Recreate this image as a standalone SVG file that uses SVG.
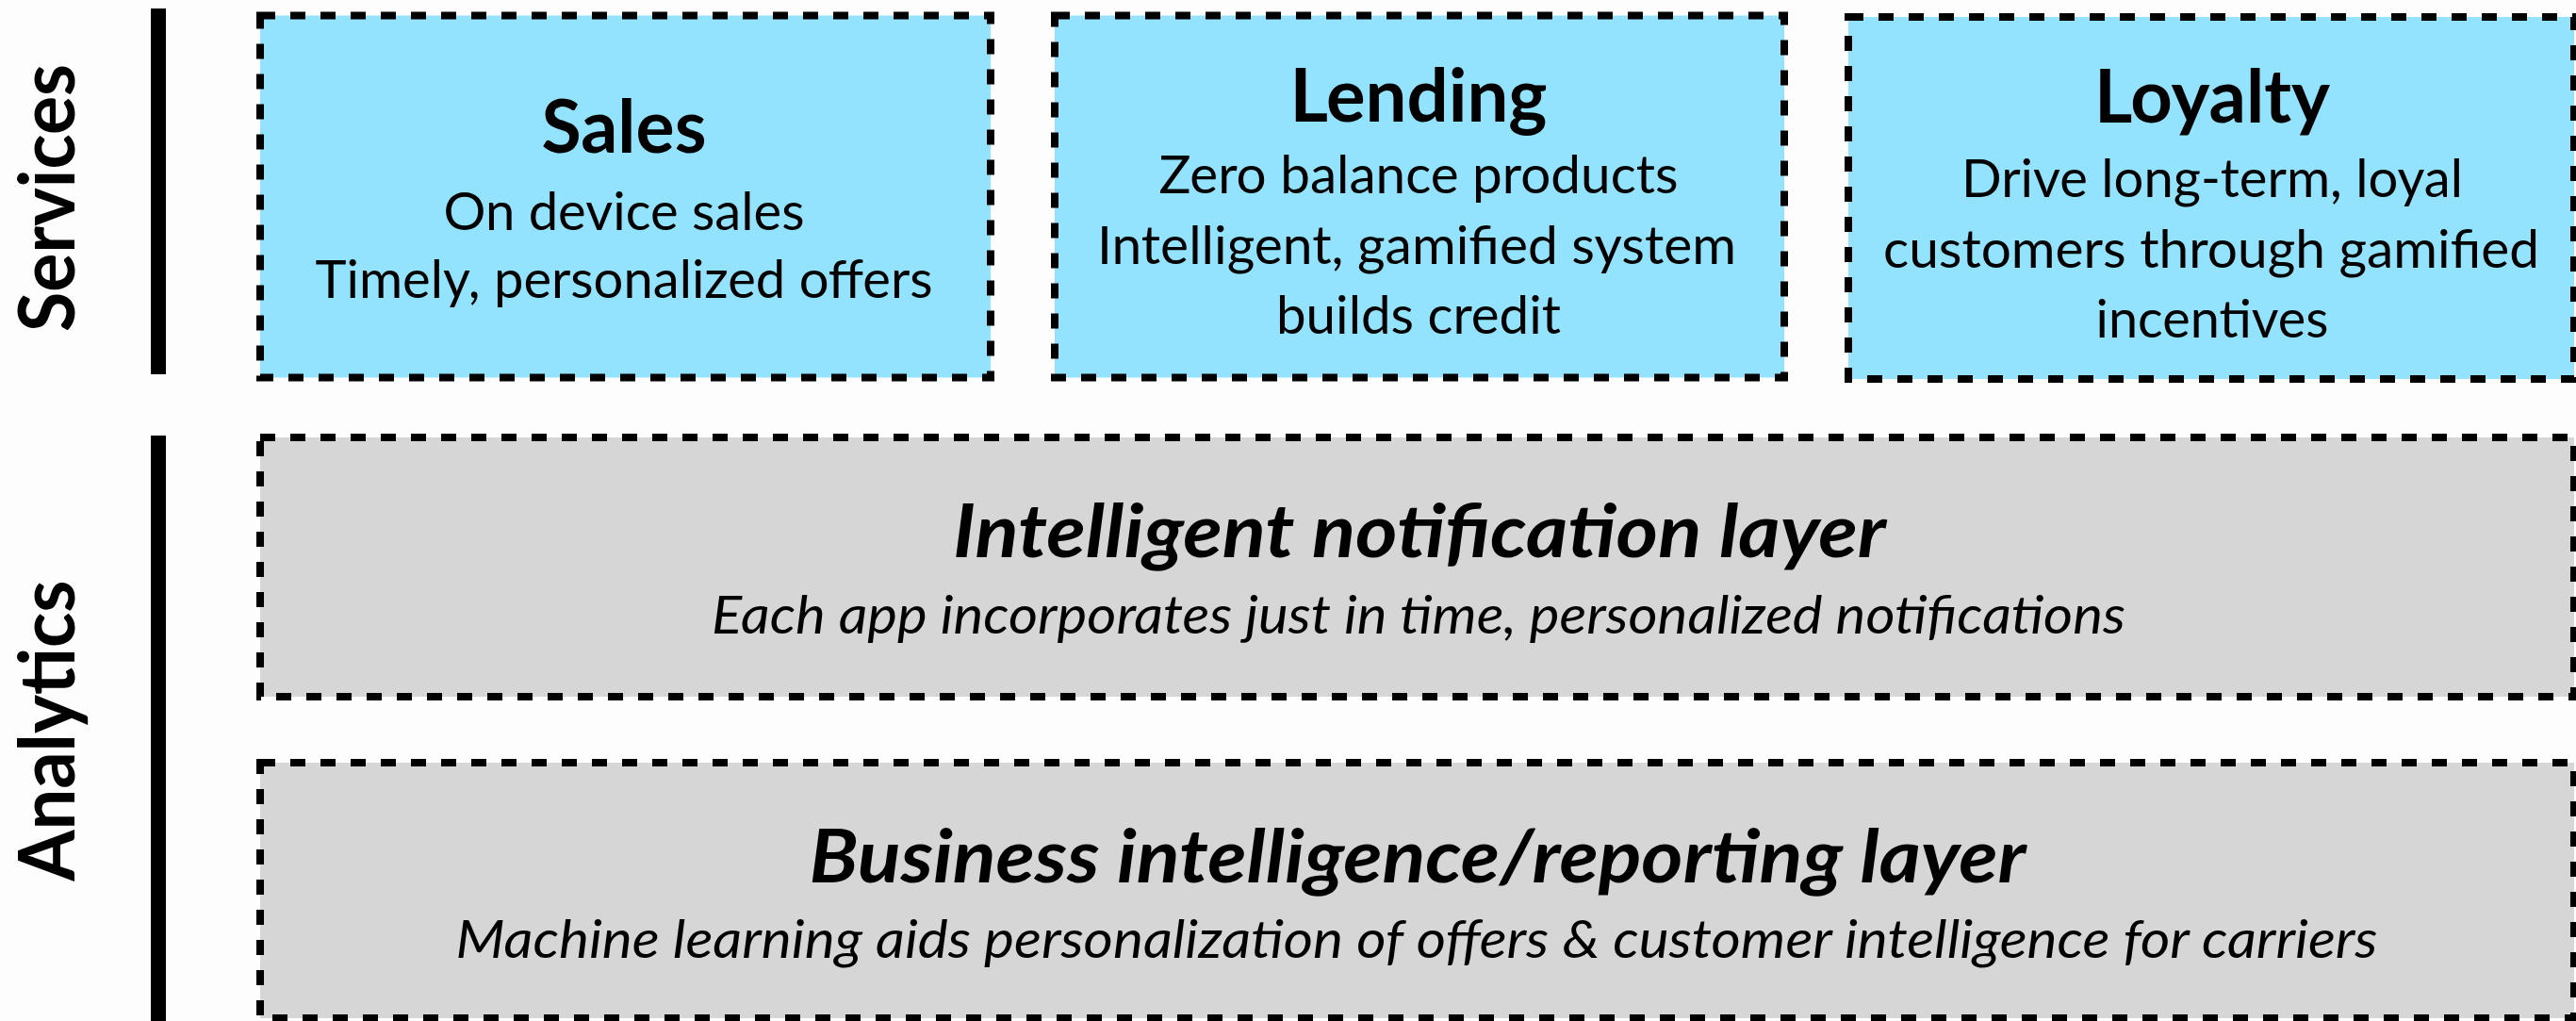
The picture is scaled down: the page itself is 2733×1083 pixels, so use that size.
<svg xmlns="http://www.w3.org/2000/svg" width="2733" height="1083" viewBox="0 0 2733 1083">
  <style>
    .box { stroke: #000; stroke-width: 8; stroke-dasharray: 16 16; }
    .blue { fill: #94E3FE; }
    .gray { fill: #D6D6D6; }
    .bar { fill: #000; }
    text { font-family: Lato, "Open Sans", "Liberation Sans", sans-serif; fill: #000; text-anchor: middle; }
    .title { font-size: 78px; font-weight: bold; }
    .body { font-size: 57px; }
    .ititle { font-size: 78px; font-weight: bold; font-style: italic; }
    .ibody { font-size: 57px; font-style: italic; }
    .side { font-size: 82px; font-weight: bold; }
  </style>
  <rect x="0" y="0" width="2733" height="1083" fill="#FDFDFD"/>

  <g id="label-services">
    <rect class="bar" x="160" y="9" width="16" height="388"/>
    <text class="side" transform="translate(79,210) rotate(-90)" x="0" y="0" textLength="284" lengthAdjust="spacingAndGlyphs">Services</text>
  </g>
  <g id="label-analytics">
    <rect class="bar" x="160" y="462" width="16" height="621"/>
    <text class="side" transform="translate(79,775) rotate(-90)" x="0" y="0" textLength="319" lengthAdjust="spacingAndGlyphs">Analytics</text>
  </g>

  <g id="sales">
    <rect class="box blue" x="276" y="16.5" width="775" height="384"/>
    <text class="title" x="662" y="162" textLength="175" lengthAdjust="spacingAndGlyphs">Sales</text>
    <text class="body" x="662" y="244" textLength="383" lengthAdjust="spacingAndGlyphs">On device sales</text>
    <text class="body" x="662" y="316" textLength="655" lengthAdjust="spacingAndGlyphs">Timely, personalized offers</text>
  </g>

  <g id="lending">
    <rect class="box blue" x="1119" y="16.5" width="774" height="384"/>
    <text class="title" x="1505" y="129" textLength="273" lengthAdjust="spacingAndGlyphs">Lending</text>
    <text class="body" x="1505" y="205" textLength="551" lengthAdjust="spacingAndGlyphs">Zero balance products</text>
    <text class="body" x="1503" y="280" textLength="678" lengthAdjust="spacingAndGlyphs">Intelligent, gamified system</text>
    <text class="body" x="1505" y="354" textLength="302" lengthAdjust="spacingAndGlyphs">builds credit</text>
  </g>

  <g id="loyalty">
    <rect class="box blue" x="1961" y="18" width="770" height="384"/>
    <text class="title" x="2347" y="130" textLength="250" lengthAdjust="spacingAndGlyphs">Loyalty</text>
    <text class="body" x="2347" y="209" textLength="532" lengthAdjust="spacingAndGlyphs">Drive long-term, loyal</text>
    <text class="body" x="2346" y="284" textLength="696" lengthAdjust="spacingAndGlyphs">customers through gamified</text>
    <text class="body" x="2347" y="358" textLength="247" lengthAdjust="spacingAndGlyphs">incentives</text>
  </g>

  <g id="notification-layer">
    <rect class="box gray" x="276" y="464" width="2455" height="275"/>
    <text class="ititle" x="1506" y="591" textLength="990" lengthAdjust="spacingAndGlyphs">Intelligent notification layer</text>
    <text class="ibody" x="1505" y="672" textLength="1500" lengthAdjust="spacingAndGlyphs">Each app incorporates just in time, personalized notifications</text>
  </g>

  <g id="reporting-layer">
    <rect class="box gray" x="276" y="809" width="2455" height="271"/>
    <text class="ititle" x="1504" y="936" textLength="1291" lengthAdjust="spacingAndGlyphs">Business intelligence/reporting layer</text>
    <text class="ibody" x="1503" y="1016" textLength="2039" lengthAdjust="spacingAndGlyphs">Machine learning aids personalization of offers &amp; customer intelligence for carriers</text>
  </g>

  <g id="connectors"/>
</svg>
